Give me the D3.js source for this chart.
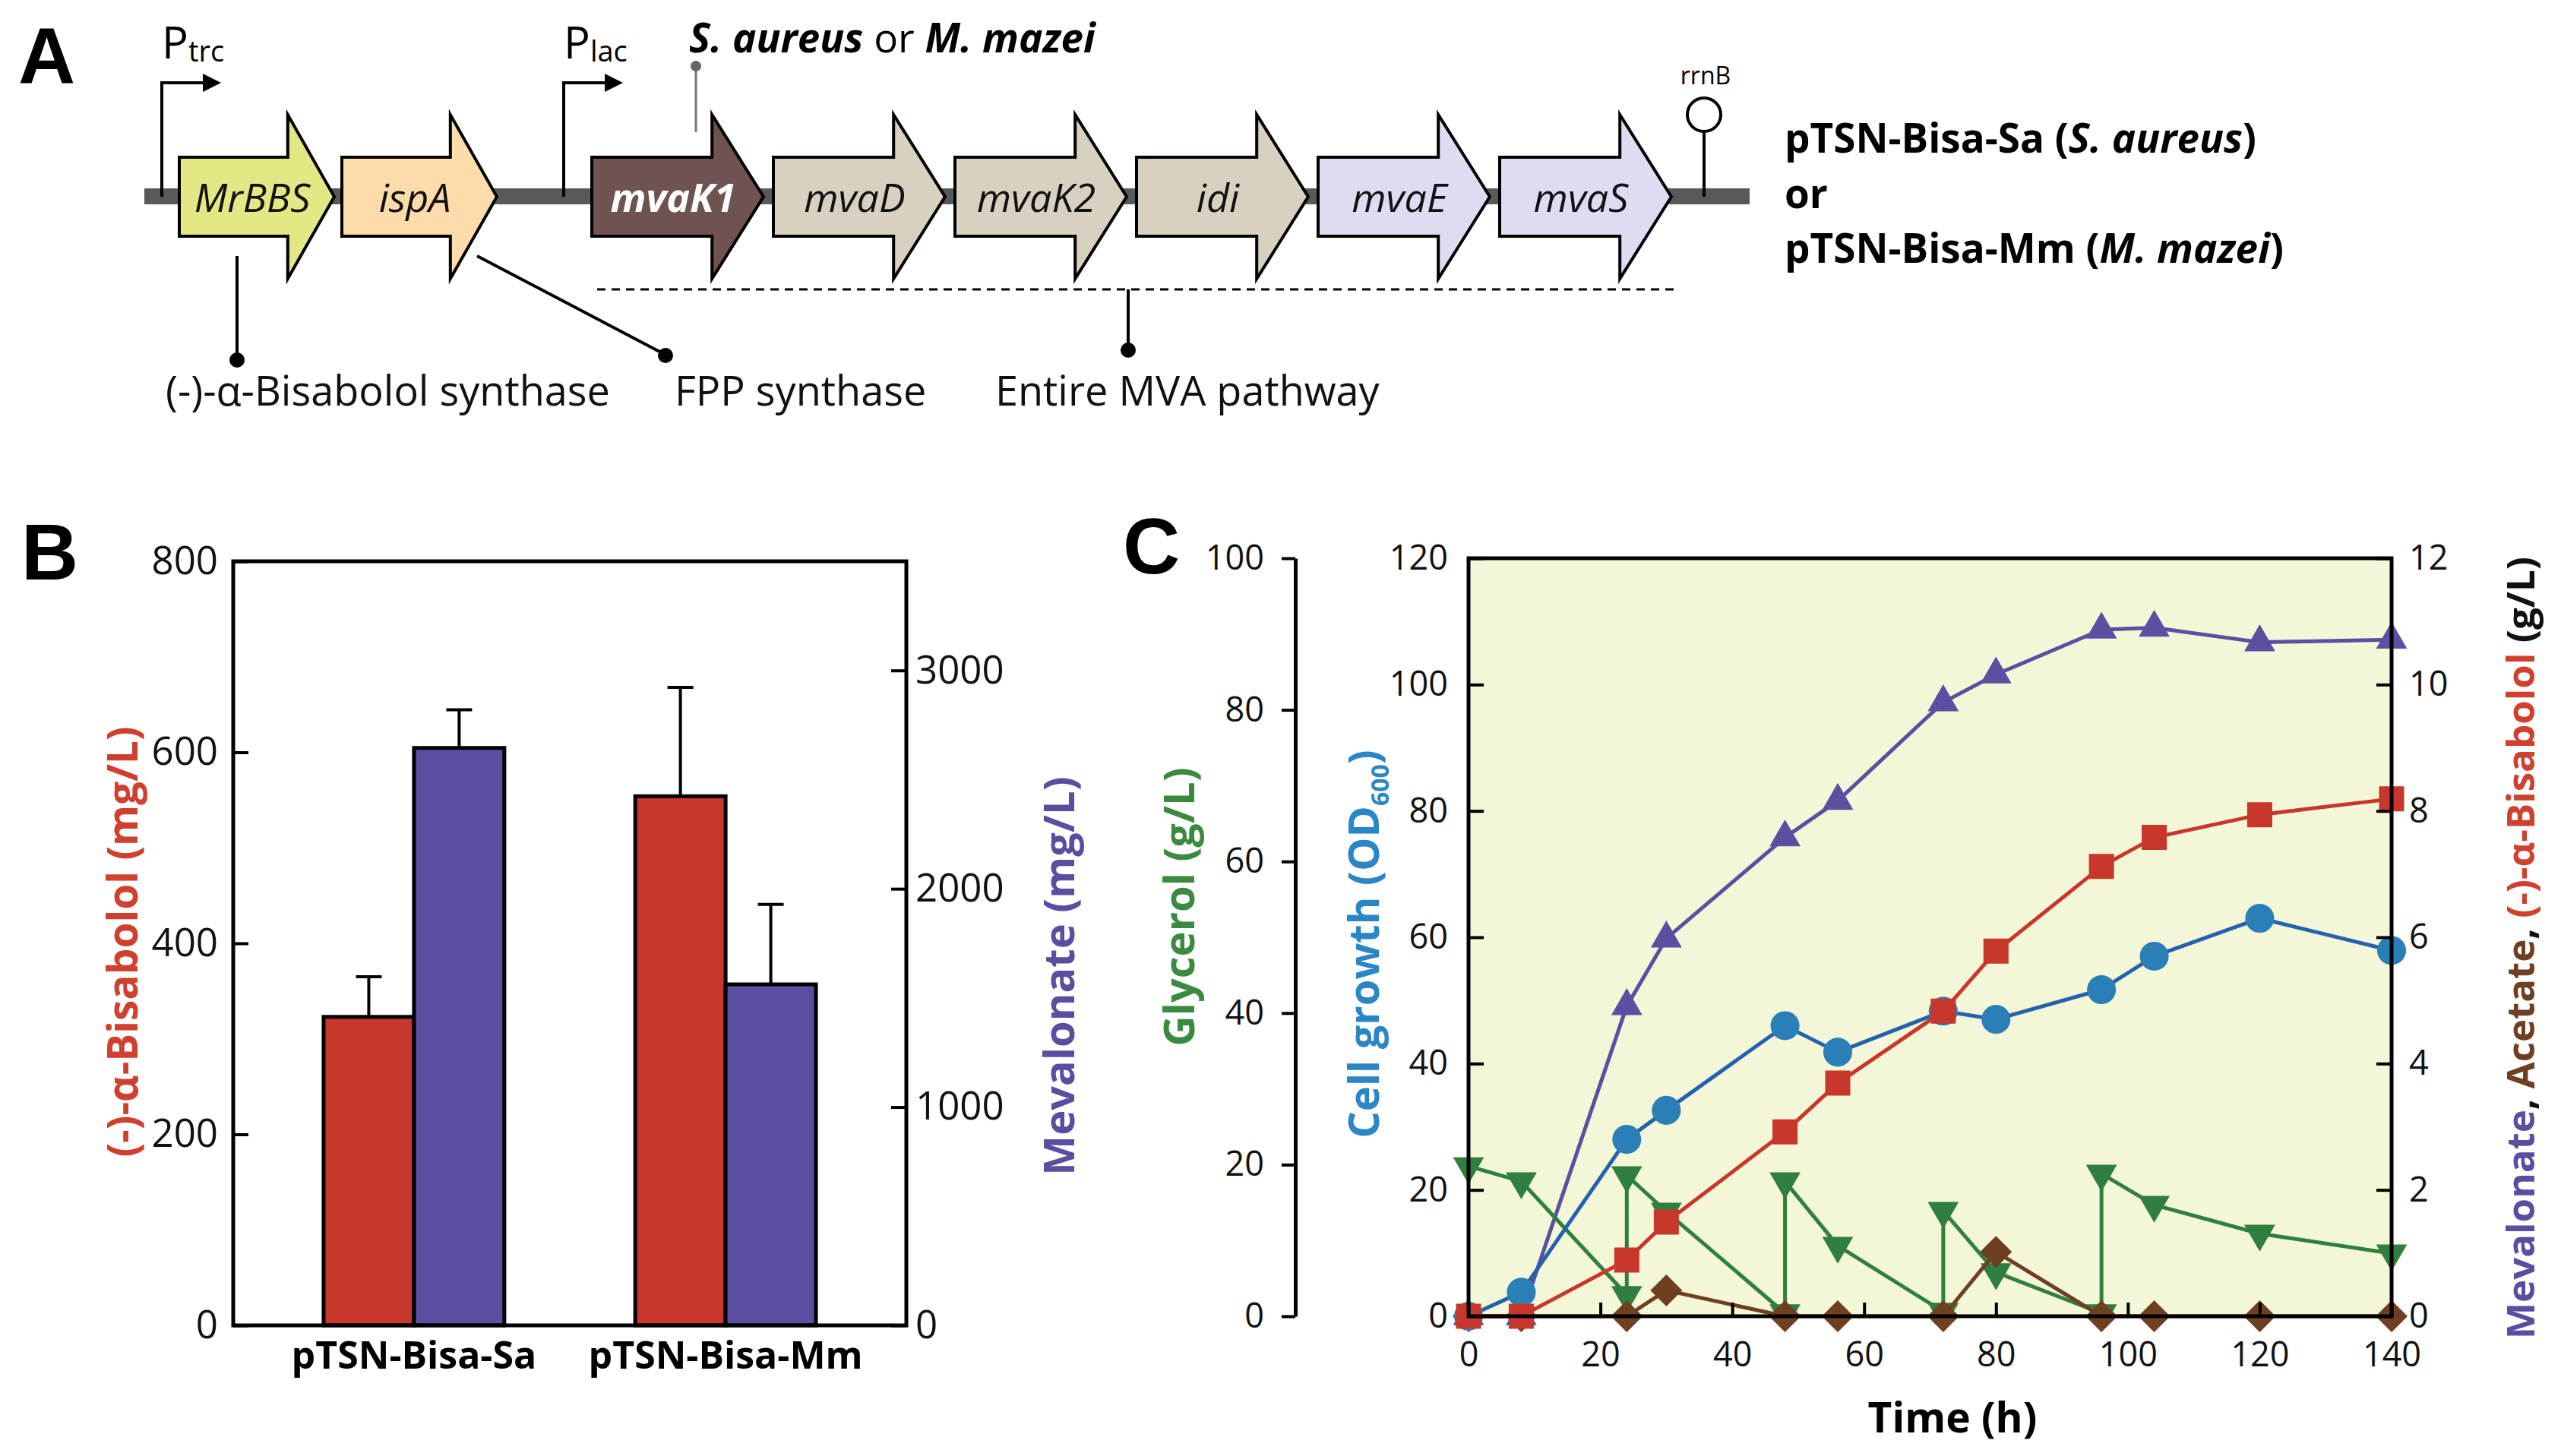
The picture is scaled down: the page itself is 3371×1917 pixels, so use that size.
<!DOCTYPE html>
<html>
<head>
<meta charset="utf-8">
<script src="https://cdn.jsdelivr.net/npm/d3@7"></script>
<style>
body{margin:0;background:#fff;}
svg{display:block;}
</style>
</head>
<body>
<div id="fig"></div>
<script>
// ---- panel A: gene construct ----
var geneNames = ['MrBBS','ispA','mvaK1','mvaD','mvaK2','idi','mvaE','mvaS'];
var geneOperon = [0,0,1,1,1,1,1,1];
var geneSlot = [0,1,0,1,2,3,4,5];
var geneNotes = ['(-)-\u03b1-Bisabolol synthase','FPP synthase','Entire MVA pathway'];

// ---- panel B: titers ----
var strains = ['pTSN-Bisa-Sa','pTSN-Bisa-Mm'];
var bisabolol = [323,554];
var bisabololErr = [42,114];
var mevalonate = [2645,1562];
var mevalonateErr = [175,366];

// ---- panel C: fed-batch ----
var timeH = [0,8,24,30,48,56,72,80,96,104,120,140];
var od600 = [0,3.8,28,32.6,46,41.8,48.3,47,51.7,57,63,57.9];
var bisaboG = [0,0,0.89,1.49,2.92,3.69,4.83,5.78,7.12,7.58,7.94,8.19];
var mevaG = [0,0,4.91,5.98,7.58,8.16,9.72,10.16,10.87,10.9,10.67,10.71];
var acetG = [0,0,0,0.41,0,0,0,1.02,0,0,0,0];
var glyTime = [0,8,24,24,30,48,48,56,72,72,80,96,96,104,120,140];
var glycerol = [19.8,17.8,2.8,18.6,13.8,0.4,17.8,9.3,0.6,13.9,5.8,0.4,18.8,14.7,10.9,8.3];

var xTicksC = [0,20,40,60,80,100,120,140];
var odTicks = [0,20,40,60,80,100,120];
var gTicks = [0,2,4,6,8,10,12];
var glyTicks = [0,20,40,60,80,100];
var bisTicks = [0,200,400,600,800];
var mevTicks = [0,1000,2000,3000];

var FONT = "'Open Sans', sans-serif";
var col = {bis:'#c8372b', mev:'#5a4fa0', od:'#2a80b6', odLine:'#2462ae', gly:'#2f7f3e', ace:'#6e3f20',
           bisLab:'#d0402f', mevLab:'#5b4ea0', odLab:'#2a86c5', glyLab:'#3a8a3f'};
var geneFill = {MrBBS:'#e3e784', ispA:'#fddcac', mvaK1:'#6e5351', mvaD:'#d9d1c0',
                mvaK2:'#d9d1c0', idi:'#d9d1c0', mvaE:'#dddcf0', mvaS:'#dddcf0'};

var svg = d3.select('#fig').append('svg')
    .attr('width',3371).attr('height',1917)
    .attr('font-family',FONT);

function styleAxis(g, size){
    g.selectAll('.tick line').attr('stroke','#000').attr('stroke-width',4);
    g.selectAll('.tick text').attr('font-size',size).attr('font-family',FONT).attr('fill','#111');
}

function panelLetter(t, x, y){
    svg.append('text').attr('x',x).attr('y',y).text(t)
        .attr('font-family',"'Liberation Sans', Arial, sans-serif")
        .attr('font-weight','bold').attr('font-size',104);
}

// ================= A =================
panelLetter('A',24,109);
var A = svg.append('g');
var bbY = 259;

A.append('rect').attr('x',190).attr('y',bbY-11).attr('width',2113).attr('height',21).attr('fill','#58595b');

// promoters
function promoter(x, label){
    A.append('path')
        .attr('d','M'+x+','+bbY+'V109H'+(x+56))
        .attr('fill','none').attr('stroke','#000').attr('stroke-width',4);
    A.append('path')
        .attr('d','M'+(x+54)+',97L'+(x+78)+',109L'+(x+54)+',121Z')
        .attr('fill','#000');
    var t = A.append('text').attr('x',x).attr('y',77).attr('font-size',58);
    t.append('tspan').text('P');
    t.append('tspan').attr('font-size',38).attr('dy',4).text(label);
}
promoter(213,'trc');
promoter(742,'lac');

// genes
var slotX = [d3.scaleLinear([0,1],[236,450]), d3.scaleLinear([0,5],[779,1974])];
var geneLen = [204,226];
var arrowLine = d3.line();

var genes = geneNames.map(function(n,i){
    var x0 = slotX[geneOperon[i]](geneSlot[i]);
    return {name:n, x0:x0, x1:x0+geneLen[geneOperon[i]]};
});

var gG = A.selectAll('g.gene').data(genes).enter().append('g').attr('class','gene');
gG.append('path')
    .attr('d',function(d){
        var xs = d.x1 - (d.x1-d.x0)*0.3;
        return arrowLine([[d.x0,bbY-52],[xs,bbY-52],[xs,bbY-108],[d.x1,bbY],
                          [xs,bbY+108],[xs,bbY+52],[d.x0,bbY+52]]) + 'Z';
    })
    .attr('fill',function(d){ return geneFill[d.name]; })
    .attr('stroke','#000').attr('stroke-width',4).attr('stroke-linejoin','miter');
gG.append('text')
    .attr('x',function(d){ return (d.x0+d.x1)/2 - 6; })
    .attr('y',bbY+20)
    .attr('text-anchor','middle')
    .attr('font-size',52).attr('font-style','italic')
    .attr('font-weight',function(d){ return d.name==='mvaK1' ? 'bold' : 'normal'; })
    .attr('fill',function(d){ return d.name==='mvaK1' ? '#fff' : '#111'; })
    .text(function(d){ return d.name; });

// species pin
A.append('line').attr('x1',916).attr('x2',916).attr('y1',174).attr('y2',92)
    .attr('stroke','#777').attr('stroke-width',3);
A.append('circle').attr('cx',916).attr('cy',87).attr('r',7).attr('fill','#666');
var sp = A.append('text').attr('x',907).attr('y',69).attr('font-size',53);
sp.append('tspan').attr('font-weight','bold').attr('font-style','italic').text('S. aureus');
sp.append('tspan').text(' or ');
sp.append('tspan').attr('font-weight','bold').attr('font-style','italic').text('M. mazei');

// terminator
A.append('line').attr('x1',2243).attr('x2',2243).attr('y1',bbY).attr('y2',173)
    .attr('stroke','#000').attr('stroke-width',4);
A.append('circle').attr('cx',2243).attr('cy',151).attr('r',22)
    .attr('fill','#fff').attr('stroke','#000').attr('stroke-width',4);
A.append('text').attr('x',2245).attr('y',111).attr('text-anchor','middle')
    .attr('font-size',32).text('rrnB');

// annotations
A.append('line').attr('x1',786).attr('x2',2206).attr('y1',381).attr('y2',381)
    .attr('stroke','#000').attr('stroke-width',3).attr('stroke-dasharray','11,8');
A.append('line').attr('x1',312).attr('x2',312).attr('y1',337).attr('y2',470)
    .attr('stroke','#000').attr('stroke-width',4);
A.append('line').attr('x1',628).attr('x2',872).attr('y1',337).attr('y2',465)
    .attr('stroke','#000').attr('stroke-width',4);
A.append('line').attr('x1',1485).attr('x2',1485).attr('y1',381).attr('y2',458)
    .attr('stroke','#000').attr('stroke-width',4);
[[312,474],[876,468],[1485,461]].forEach(function(p){
    A.append('circle').attr('cx',p[0]).attr('cy',p[1]).attr('r',10).attr('fill','#000');
});
var noteX = [218,888,1310];
A.selectAll('text.note').data(geneNotes).enter().append('text').attr('class','note')
    .attr('x',function(d,i){ return noteX[i]; }).attr('y',534)
    .attr('font-size',54).attr('fill','#111')
    .text(function(d){ return d; });

// plasmid names
var pl = A.append('g').attr('font-size',53).attr('font-weight','bold');
var t1 = pl.append('text').attr('x',2349).attr('y',201);
t1.append('tspan').text('pTSN-Bisa-Sa (');
t1.append('tspan').attr('font-style','italic').text('S. aureus');
t1.append('tspan').text(')');
pl.append('text').attr('x',2349).attr('y',274).text('or');
var t2 = pl.append('text').attr('x',2349).attr('y',346);
t2.append('tspan').text('pTSN-Bisa-Mm (');
t2.append('tspan').attr('font-style','italic').text('M. mazei');
t2.append('tspan').text(')');

// ================= B =================
panelLetter('B',28,763);
var B = svg.append('g');
var xB = d3.scaleBand().domain(strains).range([307,1193]).paddingInner(0.42).paddingOuter(0.29);
var xSub = d3.scaleBand().domain(['bis','mev']).range([0,xB.bandwidth()]);
var yB = d3.scaleLinear([0,800],[1745,739]);
var yM = d3.scaleLinear([0,3500],[1745,739]);

var barData = [];
strains.forEach(function(s,i){
    barData.push({s:s, k:'bis', v:bisabolol[i], e:bisabololErr[i], y:yB, c:col.bis});
    barData.push({s:s, k:'mev', v:mevalonate[i], e:mevalonateErr[i], y:yM, c:col.mev});
});

var bg = B.selectAll('g.bar').data(barData).enter().append('g').attr('class','bar');
bg.append('line')
    .attr('x1',function(d){ return xB(d.s)+xSub(d.k)+xSub.bandwidth()/2; })
    .attr('x2',function(d){ return xB(d.s)+xSub(d.k)+xSub.bandwidth()/2; })
    .attr('y1',function(d){ return d.y(d.v); })
    .attr('y2',function(d){ return d.y(d.v+d.e); })
    .attr('stroke','#000').attr('stroke-width',4);
bg.append('line')
    .attr('x1',function(d){ return xB(d.s)+xSub(d.k)+xSub.bandwidth()/2-17; })
    .attr('x2',function(d){ return xB(d.s)+xSub(d.k)+xSub.bandwidth()/2+17; })
    .attr('y1',function(d){ return d.y(d.v+d.e); })
    .attr('y2',function(d){ return d.y(d.v+d.e); })
    .attr('stroke','#000').attr('stroke-width',4);
bg.append('rect')
    .attr('x',function(d){ return xB(d.s)+xSub(d.k); })
    .attr('y',function(d){ return d.y(d.v); })
    .attr('width',xSub.bandwidth())
    .attr('height',function(d){ return 1745-d.y(d.v); })
    .attr('fill',function(d){ return d.c; })
    .attr('stroke','#000').attr('stroke-width',5);

B.append('rect').attr('x',307).attr('y',739).attr('width',886).attr('height',1006)
    .attr('fill','none').attr('stroke','#000').attr('stroke-width',5);

var axBL = B.append('g').attr('transform','translate(307,0)')
    .call(d3.axisLeft(yB).tickValues(bisTicks).tickSize(-20).tickPadding(20));
axBL.select('.domain').remove();
styleAxis(axBL,51);
var axBR = B.append('g').attr('transform','translate(1193,0)')
    .call(d3.axisRight(yM).tickValues(mevTicks).tickFormat(d3.format('d')).tickSize(-20).tickPadding(12));
axBR.select('.domain').remove();
styleAxis(axBR,51);

B.selectAll('text.cat').data(strains).enter().append('text').attr('class','cat')
    .attr('x',function(d){ return xB(d)+xB.bandwidth()/2; })
    .attr('y',1802).attr('text-anchor','middle')
    .attr('font-size',50).attr('font-weight','bold')
    .text(function(d){ return d; });

B.append('text').attr('transform','translate(162,1240) rotate(-90)')
    .attr('text-anchor','middle').attr('dy','0.35em')
    .attr('font-size',55).attr('font-weight','bold').attr('fill',col.bisLab)
    .text('(-)-\u03b1-Bisabolol (mg/L)');
B.append('text').attr('transform','translate(1394,1285) rotate(-90)')
    .attr('text-anchor','middle').attr('dy','0.35em')
    .attr('font-size',56).attr('font-weight','bold').attr('fill',col.mevLab)
    .text('Mevalonate (mg/L)');

// ================= C =================
panelLetter('C',1478,755);
var C = svg.append('g');
var xC = d3.scaleLinear([0,140],[1933,3148]);
var yOD = d3.scaleLinear([0,120],[1733,735]);
var yG = d3.scaleLinear([0,12],[1733,735]);
var yGly = d3.scaleLinear([0,100],[1733,735]);

C.append('rect').attr('x',1933).attr('y',735).attr('width',1215).attr('height',998)
    .attr('fill','#f3f6d7');

var lineGen = d3.line();
function series(pts, color, lineColor, shape, size, rot){
    var g = C.append('g');
    g.append('path').attr('d',lineGen(pts)).attr('fill','none')
        .attr('stroke',lineColor).attr('stroke-width',5).attr('stroke-linejoin','round');
    g.selectAll('path.mk').data(pts).enter().append('path').attr('class','mk')
        .attr('d',d3.symbol().type(shape).size(size))
        .attr('transform',function(p){ return 'translate('+p[0]+','+p[1]+') rotate('+rot+')'; })
        .attr('fill',color);
}
series(timeH.map(function(t,i){ return [xC(t), yG(mevaG[i])]; }), col.mev, col.mev, d3.symbolTriangle, 720, 0);
series(glyTime.map(function(t,i){ return [xC(t), yGly(glycerol[i])]; }), col.gly, col.gly, d3.symbolTriangle, 720, 180);
series(timeH.map(function(t,i){ return [xC(t), yG(acetG[i])]; }), col.ace, col.ace, d3.symbolSquare, 880, 45);
series(timeH.map(function(t,i){ return [xC(t), yOD(od600[i])]; }), col.od, col.odLine, d3.symbolCircle, 1140, 0);
series(timeH.map(function(t,i){ return [xC(t), yG(bisaboG[i])]; }), col.bis, col.bis, d3.symbolSquare, 1090, 0);

C.append('rect').attr('x',1933).attr('y',735).attr('width',1215).attr('height',998)
    .attr('fill','none').attr('stroke','#000').attr('stroke-width',5);

var axCB = C.append('g').attr('transform','translate(0,1733)')
    .call(d3.axisBottom(xC).tickValues(xTicksC).tickSize(-18).tickPadding(34));
axCB.select('.domain').remove();
styleAxis(axCB,45);
var axCL = C.append('g').attr('transform','translate(1933,0)')
    .call(d3.axisLeft(yOD).tickValues(odTicks).tickSize(-20).tickPadding(27));
axCL.select('.domain').remove();
styleAxis(axCL,45);
var axCR = C.append('g').attr('transform','translate(3148,0)')
    .call(d3.axisRight(yG).tickValues(gTicks).tickSize(-20).tickPadding(23));
axCR.select('.domain').remove();
styleAxis(axCR,45);
var axGly = C.append('g').attr('transform','translate(1705,0)')
    .call(d3.axisLeft(yGly).tickValues(glyTicks).tickSize(18).tickSizeOuter(0).tickPadding(23));
axGly.select('.domain').attr('stroke','#000').attr('stroke-width',5);
styleAxis(axGly,45);

C.append('text').attr('x',2570).attr('y',1886).attr('text-anchor','middle')
    .attr('font-size',55).attr('font-weight','bold').text('Time (h)');

C.append('text').attr('transform','translate(1552,1194) rotate(-90)')
    .attr('text-anchor','middle').attr('dy','0.35em')
    .attr('font-size',56).attr('font-weight','bold').attr('fill',col.glyLab)
    .text('Glycerol (g/L)');

var cg = C.append('text').attr('transform','translate(1795,1243) rotate(-90)')
    .attr('text-anchor','middle').attr('dy','0.35em')
    .attr('font-size',56).attr('font-weight','bold').attr('fill',col.odLab);
cg.append('tspan').text('Cell growth (OD');
cg.append('tspan').attr('font-size',32).attr('dy',13).text('600');
cg.append('tspan').attr('dy',-13).text(')');

var rl = C.append('text').attr('transform','translate(3318,1248) rotate(-90)')
    .attr('text-anchor','middle').attr('dy','0.35em')
    .attr('font-size',51).attr('font-weight','bold');
rl.append('tspan').attr('fill',col.mevLab).text('Mevalonate');
rl.append('tspan').attr('fill','#111').text(', ');
rl.append('tspan').attr('fill',col.ace).text('Acetate');
rl.append('tspan').attr('fill','#111').text(', ');
rl.append('tspan').attr('fill',col.bisLab).text('(-)-\u03b1-Bisabolol');
rl.append('tspan').attr('fill','#111').text(' (g/L)');
</script>
</body>
</html>
